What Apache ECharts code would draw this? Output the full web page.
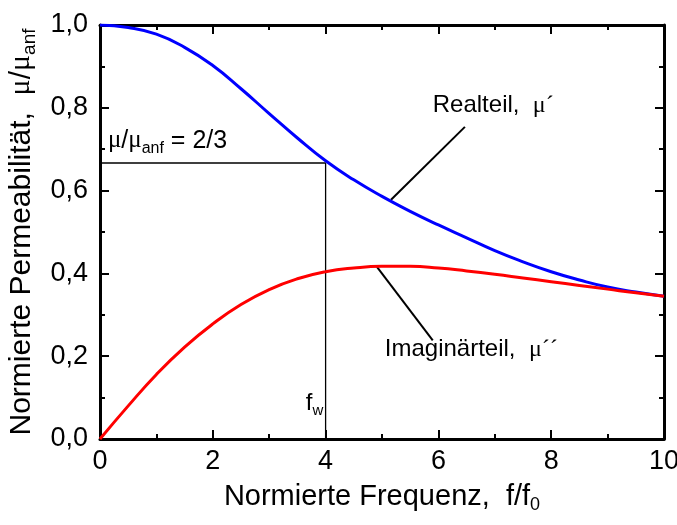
<!DOCTYPE html>
<html>
<head>
<meta charset="utf-8">
<script src="https://cdn.jsdelivr.net/npm/echarts@6/dist/echarts.min.js"></script>
<style>
  html, body { margin: 0; padding: 0; background: #fff; }
  #chart { width: 677px; height: 525px; }
</style>
</head>
<body>
<div id="chart"></div>
<script>
// Normalised frequency f/f0
const freq = [0, 0.5, 1, 1.5, 2, 2.5, 3, 3.5, 4, 4.5, 5, 5.5, 6, 6.5, 7, 7.5, 8, 8.5, 9, 9.5, 10];
// Real part mu' of the normalised permeability
const realPart = [1.000, 0.994, 0.978, 0.946, 0.902, 0.846, 0.786, 0.727, 0.672, 0.626, 0.586,
                  0.550, 0.517, 0.486, 0.455, 0.428, 0.404, 0.384, 0.367, 0.355, 0.345];
// Imaginary part mu'' of the normalised permeability
const imagPart = [0.000, 0.080, 0.156, 0.222, 0.278, 0.325, 0.361, 0.387, 0.404, 0.413, 0.417,
                  0.417, 0.413, 0.406, 0.398, 0.389, 0.380, 0.371, 0.362, 0.353, 0.345];
// Cut-off marker: mu/mu_anf = 2/3 reached at f_w
const cutoffLevel = 2 / 3;
const cutoffFreq = 4;
// Leader lines from the curve labels to the curves
const realLeader = [[5.16, 0.578], [6.47, 0.754]];
const imagLeader = [[4.91, 0.416], [5.90, 0.238]];

const xTicks = { min: 0, max: 10, interval: 2 };
const yTicks = { min: 0, max: 1, interval: 0.2 };

const FONT = 'Liberation Sans, Arial, sans-serif';
const SERIF = 'Liberation Serif, Times New Roman, serif';

const chart = echarts.init(document.getElementById('chart'), null, { renderer: 'canvas' });

const axisLine = { show: true, onZero: false, lineStyle: { color: '#000', width: 3 } };
const axisTick = { show: true, inside: true, length: 9, lineStyle: { color: '#000', width: 2 } };
const minorTick = { show: true, splitNumber: 2, length: 5, lineStyle: { color: '#000', width: 2 } };

function richSet(size) {
  return {
    t: { fontFamily: FONT, fontSize: size, color: '#000', lineHeight: size + 6 },
    g: { fontFamily: SERIF, fontSize: size, color: '#000', lineHeight: size + 6 },
    s: { fontFamily: FONT, fontSize: Math.round(size * 0.62), color: '#000',
         lineHeight: Math.round(size * 0.5), verticalAlign: 'bottom' }
  };
}

function xAxisBase(pos, labels) {
  return {
    type: 'value', position: pos, ...xTicks,
    axisLine, axisTick, minorTick,
    splitLine: { show: false }, minorSplitLine: { show: false },
    axisLabel: { show: labels, color: '#000', fontFamily: FONT, fontSize: 27, margin: 9 }
  };
}
function yAxisBase(pos, labels) {
  return {
    type: 'value', position: pos, ...yTicks,
    axisLine, axisTick, minorTick,
    splitLine: { show: false }, minorSplitLine: { show: false },
    axisLabel: {
      show: labels, color: '#000', fontFamily: FONT, fontSize: 27, margin: 12,
      formatter: v => v.toFixed(1).replace('.', ',')
    }
  };
}

const xMain = xAxisBase('bottom', true);
xMain.name = '{t|Normierte Frequenz,  f/f}{s|0}';
xMain.nameLocation = 'middle';
xMain.nameGap = 40;
xMain.nameTextStyle = { rich: richSet(29) };

const yMain = yAxisBase('left', true);
yMain.name = '{t|Normierte Permeabilität,  }{g|μ}{t|/}{g|μ}{s|anf}';
yMain.nameLocation = 'middle';
yMain.nameGap = 56;
yMain.nameTextStyle = { rich: richSet(30) };

const plain = (data, color, width, z) => ({
  type: 'line', data, showSymbol: false, silent: true, z,
  lineStyle: { color, width }, animation: false
});

const option = {
  animation: false,
  grid: { left: 100, right: 13, top: 25, bottom: 86, containLabel: false, outerBoundsMode: 'none' },
  xAxis: [xMain, xAxisBase('top', false)],
  yAxis: [yMain, yAxisBase('right', false)],
  series: [
    plain([[0, cutoffLevel], [cutoffFreq, cutoffLevel], [cutoffFreq, 0]], '#000', 1.3, 1),
    plain(realLeader, '#000', 2, 1),
    plain(imagLeader, '#000', 2, 1),
    {
      name: 'Realteil', type: 'line', smooth: 0.5, showSymbol: false, z: 3,
      data: freq.map((f, i) => [f, realPart[i]]),
      lineStyle: { color: '#0000ff', width: 3 }
    },
    {
      name: 'Imaginärteil', type: 'line', smooth: 0.5, showSymbol: false, z: 4,
      data: freq.map((f, i) => [f, imagPart[i]]),
      lineStyle: { color: '#ff0000', width: 3 }
    }
  ]
};
chart.setOption(option);

// Text annotations placed in data coordinates
function textAt(x, y, text, size) {
  const p = chart.convertToPixel({ xAxisIndex: 0, yAxisIndex: 0 }, [x, y]);
  return {
    type: 'text', x: p[0], y: p[1], silent: true,
    style: { text, rich: richSet(size), align: 'left', verticalAlign: 'bottom' }
  };
}
chart.setOption({
  graphic: [
    textAt(0.14, 0.683, '{g|μ}{t|/}{g|μ}{s|anf}{t| = 2/3}', 25),
    textAt(5.9, 0.77, '{t|Realteil,  }{g|μ´}', 24),
    textAt(5.05, 0.18, '{t|Imaginärteil,  }{g|μ´´}', 24),
    textAt(3.65, 0.05, '{t|f}{s|w}', 24)
  ]
});
</script>
</body>
</html>
